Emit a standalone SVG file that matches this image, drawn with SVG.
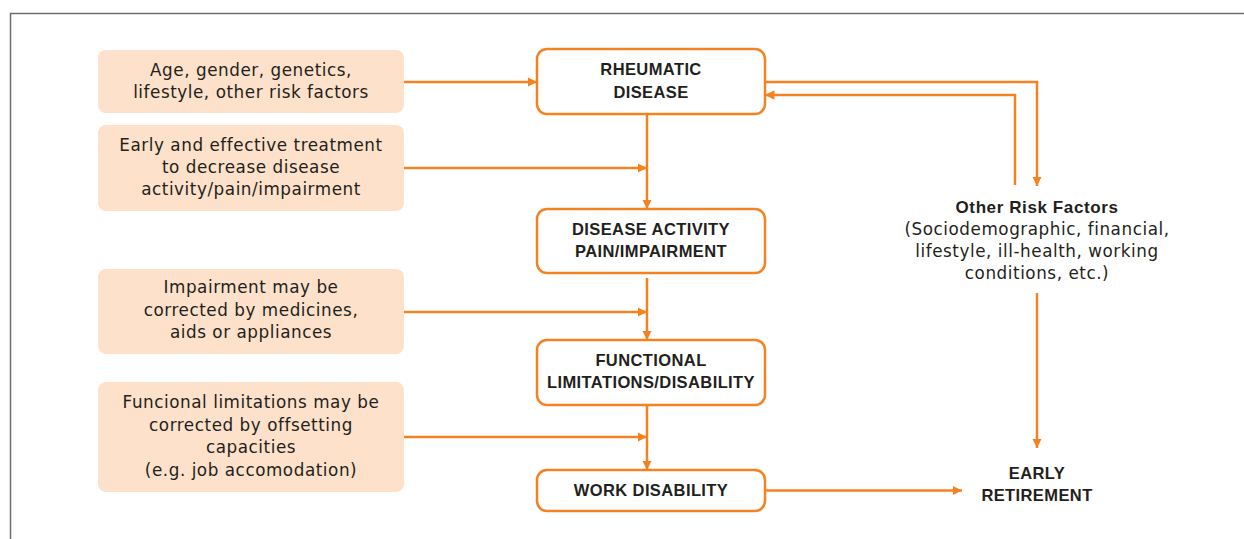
<svg xmlns="http://www.w3.org/2000/svg" width="1244" height="539" viewBox="0 0 1244 539">
<style>
.frame{fill:none;stroke:#6d6d6d;stroke-width:1.5}
.peach{fill:#fde1ca;stroke:none}
.obox{fill:#fff;stroke:#f58220;stroke-width:2.5}
.conn{fill:none;stroke:#f58220;stroke-width:2.5}
.t{font-family:"DejaVu Sans",Verdana,sans-serif;font-size:16.8px;fill:#231f20;text-anchor:middle;letter-spacing:0.55px}
.b{font-family:"Liberation Sans",Arial,sans-serif;font-weight:bold;font-size:16.5px;fill:#231f20;text-anchor:middle;letter-spacing:0.4px}
.bt{font-family:"Liberation Sans",Arial,sans-serif;font-weight:bold;font-size:17px;fill:#231f20;text-anchor:middle;letter-spacing:0.6px}
</style>
<defs>
<marker id="ah" viewBox="0 0 10 10" refX="10" refY="5" markerWidth="3.8" markerHeight="3.8" markerUnits="strokeWidth" orient="auto">
<path d="M0,0 L10,5 L0,10 Z" fill="#f58220"/>
</marker>
</defs>
<rect width="1244" height="539" fill="#fff"/>
<path class="frame" d="M10.5,539 V13.5 H1244"/>

<g id="connectors">
<path class="conn" d="M404,82 H537" marker-end="url(#ah)"/>
<path class="conn" d="M404,168 H647" marker-end="url(#ah)"/>
<path class="conn" d="M404,312 H647" marker-end="url(#ah)"/>
<path class="conn" d="M404,437 H647" marker-end="url(#ah)"/>
<path class="conn" d="M647,114 V209" marker-end="url(#ah)"/>
<path class="conn" d="M647,278 V340" marker-end="url(#ah)"/>
<path class="conn" d="M647,405 V470" marker-end="url(#ah)"/>
<path class="conn" d="M765,82 H1037 V186" marker-end="url(#ah)"/>
<path class="conn" d="M1015,185 V95 H765" marker-end="url(#ah)"/>
<path class="conn" d="M1037,293 V448" marker-end="url(#ah)"/>
<path class="conn" d="M765,490.5 H962" marker-end="url(#ah)"/>
</g>

<g id="risk-factors">
<rect class="peach" x="98" y="50" width="306" height="63" rx="8"/>
<text class="t" x="251" y="76">Age, gender, genetics,</text>
<text class="t" x="251" y="98">lifestyle, other risk factors</text>
</g>
<g id="treatment">
<rect class="peach" x="98" y="125" width="306" height="86" rx="8"/>
<text class="t" x="251" y="151">Early and effective treatment</text>
<text class="t" x="251" y="173">to decrease disease</text>
<text class="t" x="251" y="195">activity/pain/impairment</text>
</g>
<g id="impairment-correction">
<rect class="peach" x="98" y="269" width="306" height="85" rx="8"/>
<text class="t" x="251" y="293">Impairment may be</text>
<text class="t" x="251" y="316">corrected by medicines,</text>
<text class="t" x="251" y="338">aids or appliances</text>
</g>
<g id="limitation-correction">
<rect class="peach" x="98" y="382" width="306" height="110" rx="8"/>
<text class="t" x="251" y="408">Funcional limitations may be</text>
<text class="t" x="251" y="431">corrected by offsetting</text>
<text class="t" x="251" y="453">capacities</text>
<text class="t" x="251" y="476">(e.g. job accomodation)</text>
</g>

<g id="rheumatic-disease">
<rect class="obox" x="537" y="49" width="228" height="65" rx="10"/>
<text class="b" x="651" y="75">RHEUMATIC</text>
<text class="b" x="651" y="98">DISEASE</text>
</g>
<g id="disease-activity">
<rect class="obox" x="537" y="209" width="228" height="64" rx="10"/>
<text class="b" x="651" y="235">DISEASE ACTIVITY</text>
<text class="b" x="651" y="257">PAIN/IMPAIRMENT</text>
</g>
<g id="functional-limitations">
<rect class="obox" x="537" y="340" width="228" height="65" rx="10"/>
<text class="b" x="651" y="366">FUNCTIONAL</text>
<text class="b" x="651" y="388">LIMITATIONS/DISABILITY</text>
</g>
<g id="work-disability">
<rect class="obox" x="537" y="470" width="228" height="41" rx="10"/>
<text class="b" x="651" y="496">WORK DISABILITY</text>
</g>

<g id="other-risk-factors">
<text class="bt" x="1037" y="213">Other Risk Factors</text>
<text class="t" x="1037" y="235">(Sociodemographic, financial,</text>
<text class="t" x="1037" y="257">lifestyle, ill-health, working</text>
<text class="t" x="1037" y="279">conditions, etc.)</text>
</g>
<g id="early-retirement">
<text class="b" x="1037" y="479">EARLY</text>
<text class="b" x="1037" y="501">RETIREMENT</text>
</g>
</svg>
